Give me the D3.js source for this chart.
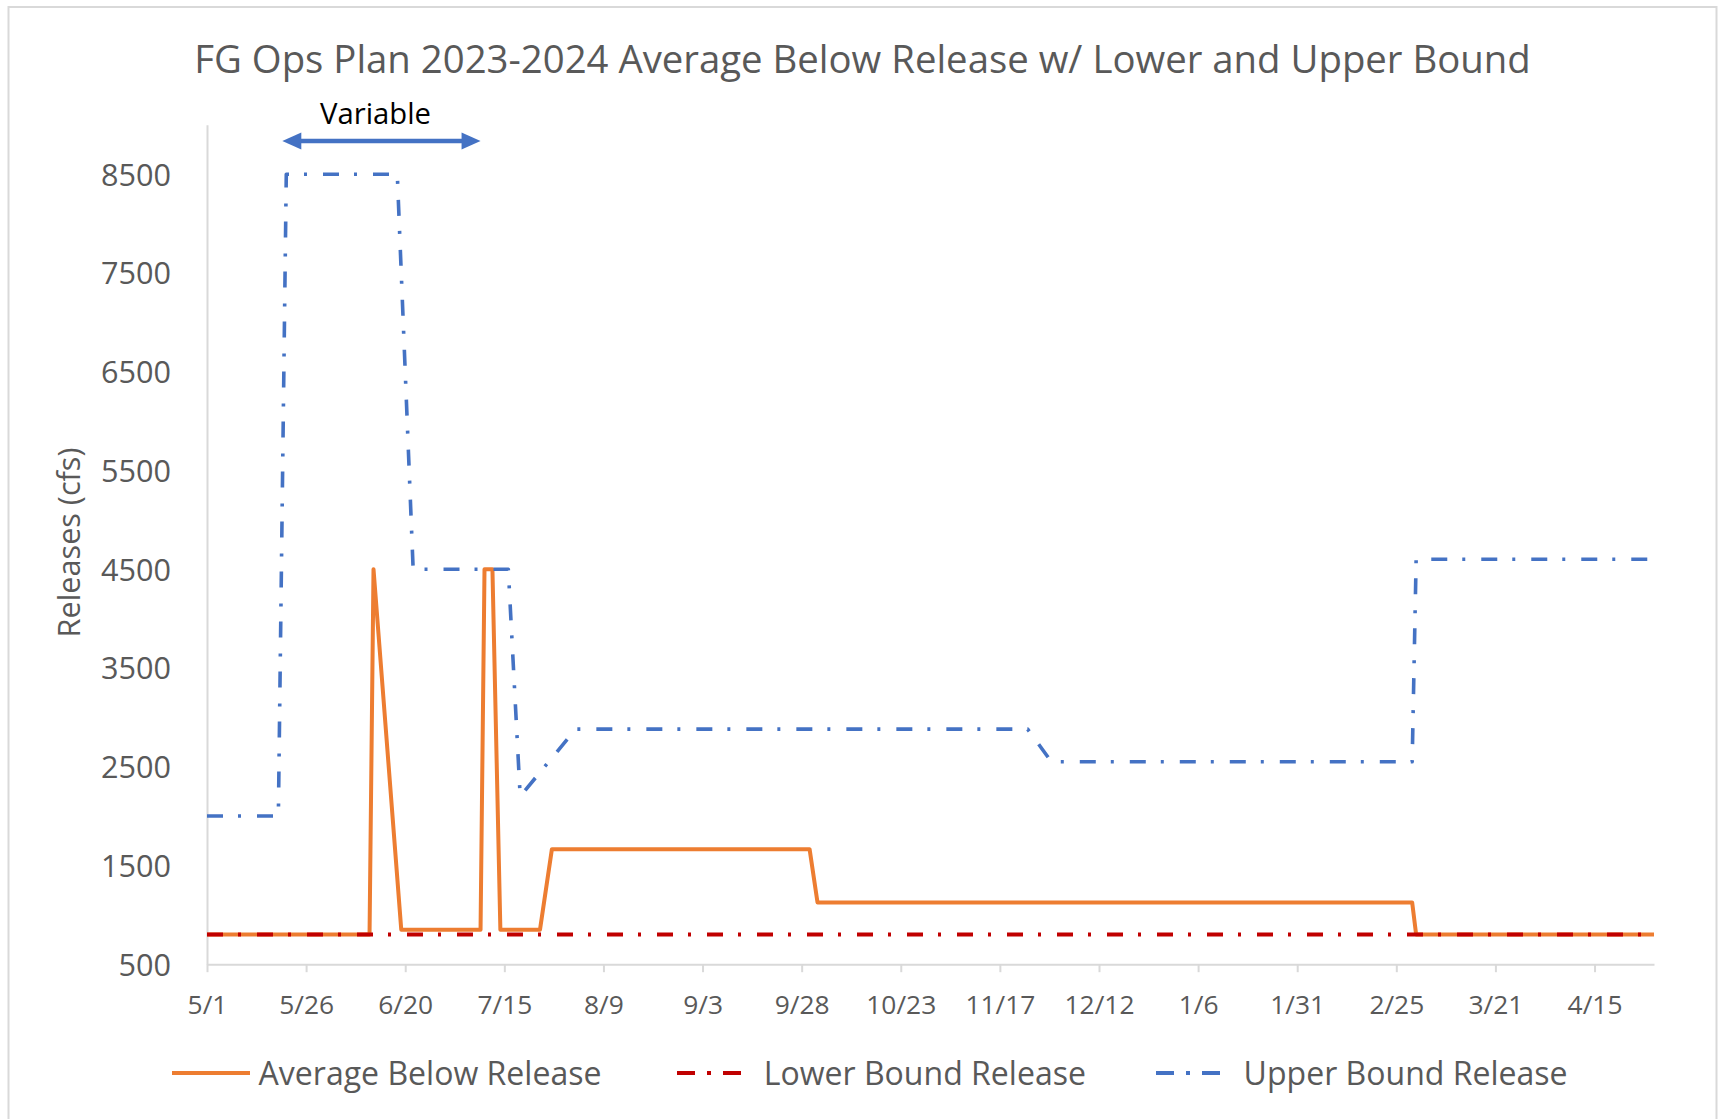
<!DOCTYPE html>
<html>
<head>
<meta charset="utf-8">
<script src="https://cdn.jsdelivr.net/npm/d3@7"></script>
<style>
  html, body { margin: 0; padding: 0; background: #fff; }
  svg { display: block; }
  text { font-family: "Open Sans", "Noto Sans", sans-serif; }
</style>
</head>
<body>
<svg id="chart" width="1718" height="1119"></svg>
<script>
// ---------------- DATA ----------------
const chartTitle = "FG Ops Plan 2023-2024 Average Below Release w/ Lower and Upper Bound";
const yAxisTitle = "Releases (cfs)";
const annotationText = "Variable";

const seriesNames = ["Average Below Release", "Lower Bound Release", "Upper Bound Release"];

const averageDates  = ["2023-05-01","2023-06-11","2023-06-12","2023-06-19","2023-07-09","2023-07-10","2023-07-12","2023-07-14","2023-07-24","2023-07-27","2023-09-30","2023-10-02","2024-02-29","2024-03-01","2024-04-30"];
const averageValues = [800, 800, 4500, 850, 850, 4500, 4500, 850, 850, 1665, 1665, 1125, 1125, 800, 800];

const lowerDates  = ["2023-05-01","2024-04-30"];
const lowerValues = [800, 800];

const upperDates  = ["2023-05-01","2023-05-19","2023-05-21","2023-06-18","2023-06-22","2023-07-16","2023-07-19","2023-08-02","2023-11-24","2023-11-30","2024-02-29","2024-03-01","2024-04-30"];
const upperValues = [2000, 2000, 8500, 8500, 4500, 4500, 2200, 2880, 2880, 2550, 2550, 4600, 4600];

const xTickDates = ["2023-05-01","2023-05-26","2023-06-20","2023-07-15","2023-08-09","2023-09-03","2023-09-28","2023-10-23","2023-11-17","2023-12-12","2024-01-06","2024-01-31","2024-02-25","2024-03-21","2024-04-15"];
const yTickValues = [500, 1500, 2500, 3500, 4500, 5500, 6500, 7500, 8500];
const xDomain = ["2023-05-01","2024-04-30"];
const yDomain = [500, 9000];
const annotationRange = ["2023-05-20","2023-07-09"];

// ---------------- SETUP ----------------
const parse = d3.utcParse("%Y-%m-%d");
const fmt = d3.utcFormat("%-m/%-d");
const svg = d3.select("#chart");
const W = 1718, H = 1119;
const plot = { left: 207, right: 1654, top: 124.8, bottom: 964.2 };

const x = d3.scaleUtc().domain(xDomain.map(parse)).range([plot.left, plot.right]);
const y = d3.scaleLinear().domain(yDomain).range([plot.bottom, plot.top]);

const textColor = "#595959";
const axisColor = "#d9d9d9";
const colors = ["#ED7D31", "#C00000", "#4472C4"];

function fitText(sel, targetWidth) {
  sel.style("font-size", "100px");
  const w = sel.node().getComputedTextLength();
  const size = 100 * targetWidth / w;
  sel.style("font-size", size + "px");
  return size;
}

// background & border
svg.append("rect").attr("x", 0).attr("y", 0).attr("width", W).attr("height", H).attr("fill", "#fff");
svg.append("rect").attr("x", 8.5).attr("y", 7).attr("width", 1708).attr("height", 1140)
  .attr("fill", "none").attr("stroke", axisColor).attr("stroke-width", 2);

// title
const t = svg.append("text").attr("x", 862.5).attr("y", 73).attr("text-anchor", "middle")
  .attr("fill", textColor).text(chartTitle);
fitText(t, 1337);

// axes
const xAxis = d3.axisBottom(x)
  .tickValues(xTickDates.map(parse))
  .tickFormat(fmt)
  .tickSize(8)
  .tickSizeOuter(0)
  .tickPadding(14);
const gx = svg.append("g").attr("transform", `translate(0,${plot.bottom})`).call(xAxis);
gx.select(".domain").attr("stroke", axisColor).attr("stroke-width", 2);
gx.selectAll(".tick line").attr("stroke", axisColor).attr("stroke-width", 2);
gx.selectAll(".tick text").attr("fill", textColor).attr("font-family", null).attr("dy", null)
  .attr("y", 50);
{
  const probe = gx.selectAll(".tick text").filter(function(){ return this.textContent === "10/23"; });
  const s = fitText(probe, 70);
  gx.selectAll(".tick text").style("font-size", s + "px");
}

const yAxis = d3.axisLeft(y).tickValues(yTickValues).tickSize(0).tickSizeOuter(0).tickPadding(36)
  .tickFormat(d3.format("d"));
const gy = svg.append("g").attr("transform", `translate(${plot.left},0)`).call(yAxis);
gy.select(".domain").attr("stroke", axisColor).attr("stroke-width", 2);
gy.selectAll(".tick text").attr("fill", textColor).attr("font-family", null).attr("dy", "0.36em");
{
  const probe = gy.selectAll(".tick text").filter(function(){ return this.textContent === "8500"; });
  const s = fitText(probe, 70);
  gy.selectAll(".tick text").style("font-size", s + "px");
}
svg.selectAll(".tick text").attr("font-size", null);
svg.selectAll("g").attr("font-size", null).attr("font-family", null);

// y axis title
const yt = svg.append("text").attr("transform", `translate(80,542.5) rotate(-90)`)
  .attr("text-anchor", "middle").attr("fill", textColor).text(yAxisTitle);
fitText(yt, 190);

// series
const makeSeries = (dates, values) => dates.map((d, i) => ({ date: parse(d), value: values[i] }));
const series = [
  makeSeries(averageDates, averageValues),
  makeSeries(lowerDates, lowerValues),
  makeSeries(upperDates, upperValues)
];
const line = d3.line().x(d => x(d.date)).y(d => y(d.value));
const dash = [null, "16,15,3,16", "16,15,3,16"];
const widths = [4, 4, 3.6];

series.forEach((s, i) => {
  svg.append("path").datum(s)
    .attr("d", line)
    .attr("fill", "none")
    .attr("stroke", colors[i])
    .attr("stroke-width", widths[i])
    .attr("stroke-linejoin", "round")
    .attr("stroke-dasharray", dash[i]);
});

// annotation: Variable with double arrow
const ax0 = x(parse(annotationRange[0])), ax1 = x(parse(annotationRange[1]));
const ay = 141;
svg.append("line").attr("x1", ax0 + 16).attr("x2", ax1 - 16).attr("y1", ay).attr("y2", ay)
  .attr("stroke", colors[2]).attr("stroke-width", 4.5);
svg.append("path")
  .attr("d", `M${ax0},${ay} L${ax0 + 19},${ay - 8.5} L${ax0 + 19},${ay + 8.5} Z`)
  .attr("fill", colors[2]);
svg.append("path")
  .attr("d", `M${ax1},${ay} L${ax1 - 19},${ay - 8.5} L${ax1 - 19},${ay + 8.5} Z`)
  .attr("fill", colors[2]);
const vt = svg.append("text").attr("x", 375.5).attr("y", 124).attr("text-anchor", "middle")
  .attr("fill", "#000").text(annotationText);
fitText(vt, 111);

// legend
const legendY = 1073;
const legendItems = [
  { x0: 172, x1: 250, tx: 258.6, w: 343 },
  { x0: 677, x1: 745, tx: 763.7, w: 319 },
  { x0: 1156, x1: 1224, tx: 1243.6, w: 320 }
];
const legendDash = [null, "18,12,4,12", "18,12,4,12"];
let legendSize = null;
legendItems.forEach((it, i) => {
  svg.append("line").attr("x1", it.x0).attr("x2", it.x1).attr("y1", legendY).attr("y2", legendY)
    .attr("stroke", colors[i]).attr("stroke-width", 4)
    .attr("stroke-dasharray", legendDash[i]);
  const lt = svg.append("text").attr("x", it.tx).attr("y", legendY).attr("dy", "0.36em")
    .attr("fill", textColor).text(seriesNames[i]);
  if (legendSize === null) legendSize = fitText(lt, it.w);
  else lt.style("font-size", legendSize + "px");
});
</script>
</body>
</html>
